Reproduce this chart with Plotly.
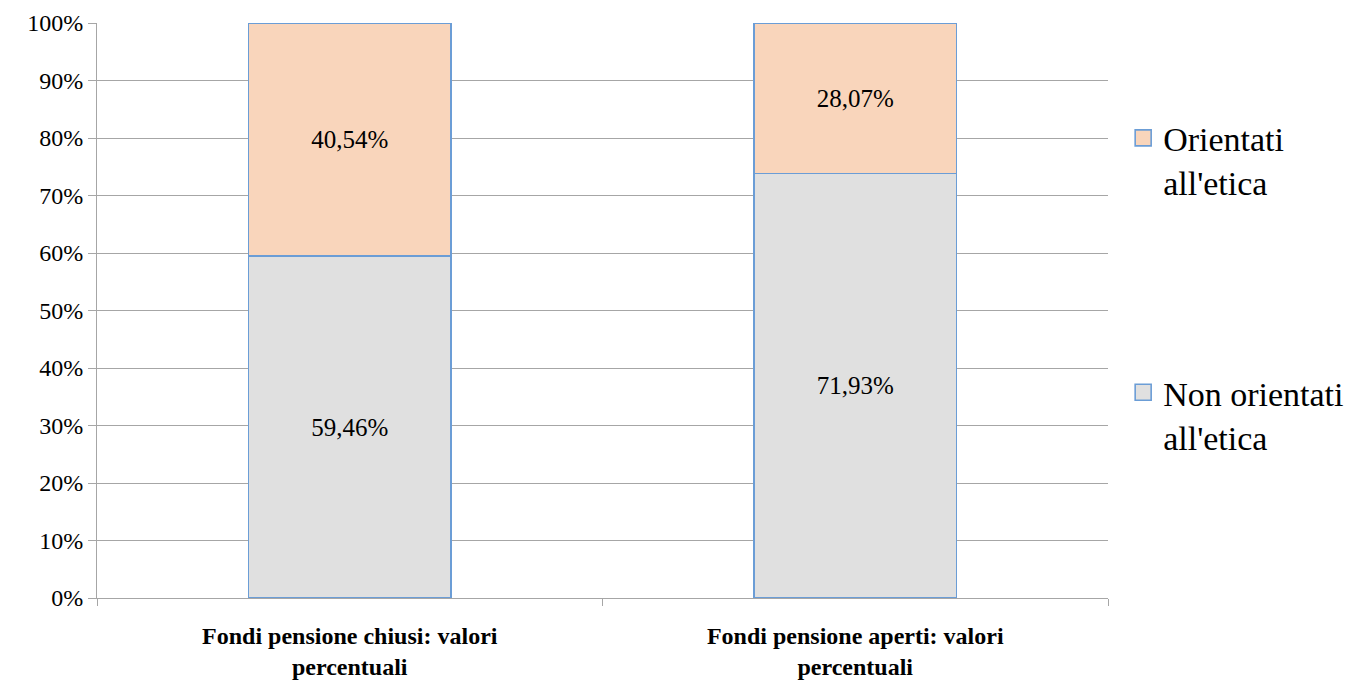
import plotly.graph_objects as go

# categories and series (heights as drawn, labels as printed on the chart)
categories = ["Fondi pensione chiusi: valori<br>percentuali",
              "Fondi pensione aperti: valori<br>percentuali"]
non_orientati = [0.5946, 0.738]
orientati = [0.4054, 0.262]
non_orientati_labels = ["59,46%", "71,93%"]
orientati_labels = ["40,54%", "28,07%"]
series_names = ["Non orientati<br>all'etica", "Orientati<br>all'etica"]
series_colors = ["#e0e0e0", "#f9d5bb"]

FONT = "Liberation Serif"
EDGE = "#6b9dd6"
GRID = "#a6a6a6"

fig = go.Figure()
for vals, labels, color in [(non_orientati, non_orientati_labels, series_colors[0]),
                            (orientati, orientati_labels, series_colors[1])]:
    fig.add_trace(go.Bar(x=categories, y=vals, text=labels,
        textposition="inside", insidetextanchor="middle", textangle=0,
        textfont=dict(family=FONT, size=25, color="black"),
        marker=dict(color=color, line=dict(color=EDGE, width=1.6)),
        showlegend=False, hoverinfo="skip"))

# legend entries with larger square swatches (Orientati listed first)
for i in [1, 0]:
    fig.add_trace(go.Scatter(x=[None], y=[None], mode="markers", name=series_names[i],
        marker=dict(symbol="square", size=18, color=series_colors[i],
                    line=dict(color=EDGE, width=1.6)),
        legendgroup=f"g{i}"))

fig.update_layout(
    width=1368, height=685, barmode="stack", bargap=0.6,
    plot_bgcolor="white", paper_bgcolor="white",
    margin=dict(l=89, r=268, t=15, b=95),
    font=dict(family=FONT, color="black"),
    separators=",.",
    showlegend=True,
    legend=dict(x=1.015, y=0.85, xanchor="left", yanchor="top", valign="top",
                traceorder="grouped", tracegroupgap=163,
                font=dict(family=FONT, size=34, color="black"),
                itemwidth=30, bgcolor="rgba(0,0,0,0)"),
    xaxis=dict(showline=True, linecolor=GRID, linewidth=1, ticks="outside",
               tickson="boundaries", ticklen=7, tickcolor=GRID, automargin=False,
               ticklabelstandoff=16,
               tickfont=dict(family=FONT, size=24, color="black", weight="bold")),
    yaxis=dict(range=[0, 1], dtick=0.1, tickformat=".0%", showline=True,
               linecolor=GRID, linewidth=1, gridcolor=GRID, gridwidth=1,
               ticks="outside", ticklen=8, tickcolor=GRID, automargin=False,
               ticklabeloverflow="allow",
               tickfont=dict(family=FONT, size=24, color="black"), zeroline=False),
)

fig.write_html("out.html")
